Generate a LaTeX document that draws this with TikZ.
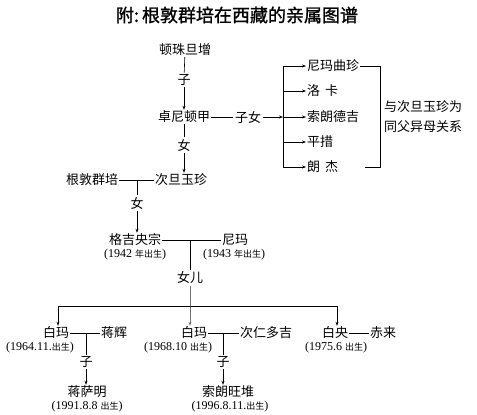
\documentclass[tikz,border=0pt]{standalone}
\usepackage{fontspec}
\setmainfont{Liberation Serif}
\newfontfamily\cjk{Noto Sans CJK SC}
\newfontfamily\cjktitle[FakeBold=1.2]{Noto Sans CJK SC}
\usetikzlibrary{arrows.meta,positioning}
\newcommand\chusheng[1]{{\cjk\fontsize{9}{10}\selectfont #1}}

\begin{document}
\begin{tikzpicture}[x=1pt,y=-1pt,
  heading/.style={font=\cjktitle\fontsize{18}{20}\selectfont,inner sep=0pt},
  person/.style={font=\cjk\fontsize{13}{15}\selectfont,inner sep=1pt},
  kin/.style={font=\cjk\fontsize{13}{15}\selectfont,inner sep=1.5pt},
  born/.style={font=\fontsize{12}{13}\selectfont,inner sep=0pt},
  note/.style={font=\cjk\fontsize{13}{20}\selectfont,align=left,inner sep=0pt},
  line/.style={draw=black,line width=0.6pt},
  faint/.style={draw=black!55,line width=0.5pt},
  arr/.style={line,-{Stealth[length=4pt,width=3pt]}}
]
  \useasboundingbox (0,0) rectangle (477,415);

  % Title
  \node[heading] (ttl) at (237,15) {附:\,根敦群培在西藏的亲属图谱};

  % Upper generations
  \node[person] (dzdz) at (185,50)  {顿珠旦增};
  \node[kin]    (k1)   at (184,80)  {子};
  \node[person] (zndj) at (184,117) {卓尼顿甲};
  \node[kin]    (k2)   at (248,117) {子女};
  \coordinate   (fork) at (283,117);

  % Half-siblings
  \node[person,anchor=west] (s1) at (306,66)  {尼玛曲珍};
  \node[person,anchor=west] (s2) at (306,91)  {洛\hspace{5pt}卡};
  \node[person,anchor=west] (s3) at (306,117) {索朗德吉};
  \node[person,anchor=west] (s4) at (306,142) {平措};
  \node[person,anchor=west] (s5) at (306,167) {朗\hspace{5pt}杰};
  \coordinate (brk) at (380,0);
  \node[note] (note) at (423,117) {与次旦玉珍为\\同父异母关系};

  \node[kin]    (k3)   at (184,145) {女};
  \node[person] (cdyz) at (181,180) {次旦玉珍};
  \node[person] (gdqp) at (92,180)  {根敦群培};
  \node[kin]    (k4)   at (137,203) {女};

  \node[person] (gjyz) at (135,240) {格吉央宗};
  \node[born]   (b1)   at (135,255) {(1942 \chusheng{年出生})};
  \node[person] (nm)   at (235,240) {尼玛};
  \node[born]   (b2)   at (234,255) {(1943 \chusheng{年出生})};
  \node[kin]    (k5)   at (190,278) {女儿};

  % Children
  \coordinate (bl) at (58,306);
  \coordinate (br) at (337,306);
  \node[person] (bm1)  at (56,333)  {白玛};
  \node[born]   (b3)   at (40,348)  {(1964.11.\chusheng{出生})};
  \node[person] (jh)   at (114,333) {蒋辉};
  \node[person] (bm2)  at (194,333) {白玛};
  \node[born]   (b4)   at (178,348) {(1968.10 \chusheng{出生})};
  \node[person] (crdj) at (266,333) {次仁多吉};
  \node[person] (by)   at (335,333) {白央};
  \node[born]   (b5)   at (336,348) {(1975.6 \chusheng{出生})};
  \node[person] (cl)   at (383,333) {赤来};

  % Grandchildren
  \node[kin]    (k6)   at (86,362)  {子};
  \node[person] (jsm)  at (87,392)  {蒋萨明};
  \node[born]   (b6)   at (87,407)  {(1991.8.8 \chusheng{出生})};
  \node[kin]    (k7)   at (223,362) {子};
  \node[person] (slwd) at (228,392) {索朗旺堆};
  \node[born]   (b7)   at (230,407) {(1996.8.11.\chusheng{出生})};

  % Lines
  \draw[line] (dzdz) -- (k1);
  \draw[arr]  (k1) -- (zndj);
  \draw[line] (zndj) -- (k2);
  \draw[arr]  (k2) -- (fork);
  \draw[line] (fork |- s1) -- (fork |- s5);
  \foreach \s in {s1,s2,s3,s4,s5}
    \draw[arr] (fork |- \s.west) -- (\s.west);
  \draw[line] (s1.east) -| (brk |- s5) -- ++(-15,0);
  \draw[line] (zndj) -- (k3);
  \draw[arr]  (k3) -- (k3 |- cdyz.north);
  \draw[line] (gdqp) -- (cdyz);
  \draw[line] (k4) -- (k4 |- gdqp);
  \draw[arr]  (k4) -- (k4 |- gjyz.north);
  \draw[line] (gjyz) -- (nm);
  \draw[line] (k5) -- (k5 |- nm);
  \draw[arr,faint] (k5) -- (k5 |- bm2.north);
  \draw[line] (bl) -- (br);
  \draw[arr]  (bl) -- (bl |- bm1.north);
  \draw[arr]  (br) -- (br |- by.north);
  \draw[line] (bm1) -- (jh);
  \draw[line] (k6) -- (k6 |- bm1);
  \draw[arr]  (k6) -- (k6 |- jsm.north);
  \draw[line] (bm2) -- (crdj);
  \draw[line] (k7) -- (k7 |- bm2);
  \draw[arr]  (k7) -- (k7 |- slwd.north);
  \draw[line] (by) -- (cl);
\end{tikzpicture}
\end{document}
